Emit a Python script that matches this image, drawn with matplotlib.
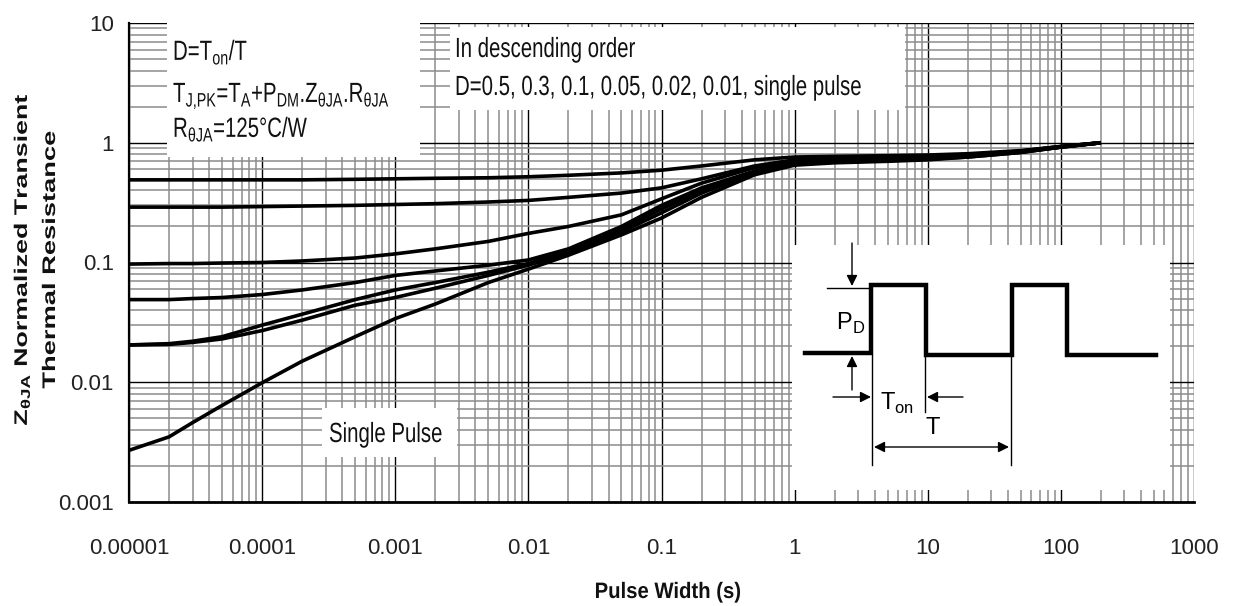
import matplotlib
matplotlib.use("Agg")
import matplotlib.pyplot as plt
from matplotlib.patches import Rectangle, PathPatch
from matplotlib.textpath import TextPath
from matplotlib.font_manager import FontProperties
from matplotlib.transforms import Affine2D
from matplotlib.ticker import FixedLocator, FixedFormatter, LogLocator, NullFormatter

# =====================
# DATA
# =====================
pulse_width = [1e-5, 2e-5, 3e-5, 5e-5, 1e-4, 2e-4, 5e-4, 1e-3, 2e-3, 5e-3, 1e-2, 2e-2,
               5e-2, 0.1, 0.2, 0.5, 1, 2, 5, 10, 20, 50, 100, 200]

z_d050 = [0.49, 0.49, 0.49, 0.49, 0.49, 0.49, 0.495, 0.50, 0.505, 0.51, 0.52, 0.535,
          0.56, 0.59, 0.64, 0.72, 0.76, 0.77, 0.78, 0.79, 0.81, 0.86, 0.93, 1.0]
z_d030 = [0.29, 0.29, 0.29, 0.29, 0.293, 0.296, 0.30, 0.305, 0.31, 0.32, 0.33, 0.35,
          0.38, 0.42, 0.50, 0.64, 0.72, 0.74, 0.76, 0.77, 0.79, 0.85, 0.93, 1.0]
z_d010 = [0.097, 0.098, 0.098, 0.099, 0.10, 0.103, 0.109, 0.118, 0.13, 0.15, 0.175, 0.20,
          0.25, 0.34, 0.46, 0.62, 0.69, 0.72, 0.74, 0.76, 0.79, 0.85, 0.93, 1.0]
z_d005 = [0.049, 0.049, 0.050, 0.051, 0.054, 0.059, 0.068, 0.078, 0.085, 0.095, 0.105, 0.13,
          0.20, 0.30, 0.42, 0.58, 0.68, 0.71, 0.73, 0.75, 0.78, 0.84, 0.92, 1.0]
z_d002 = [0.0205, 0.021, 0.022, 0.024, 0.030, 0.037, 0.049, 0.059, 0.068, 0.083, 0.098, 0.125,
          0.19, 0.28, 0.40, 0.57, 0.67, 0.70, 0.72, 0.74, 0.77, 0.84, 0.92, 1.0]
z_d001 = [0.0205, 0.0207, 0.0215, 0.023, 0.027, 0.033, 0.044, 0.051, 0.061, 0.078, 0.095, 0.12,
          0.18, 0.26, 0.38, 0.56, 0.66, 0.69, 0.71, 0.73, 0.76, 0.83, 0.92, 1.0]
z_single = [0.0027, 0.0035, 0.0046, 0.0064, 0.0099, 0.015, 0.024, 0.034, 0.045, 0.068, 0.088,
            0.115, 0.17, 0.235, 0.35, 0.54, 0.65, 0.68, 0.70, 0.72, 0.76, 0.83, 0.92, 1.0]

x_ticks = [1e-5, 1e-4, 1e-3, 1e-2, 1e-1, 1, 10, 100, 1000]
x_labels = ["0.00001", "0.0001", "0.001", "0.01", "0.1", "1", "10", "100", "1000"]
y_ticks = [1e-3, 1e-2, 1e-1, 1, 10]
y_labels = ["0.001", "0.01", "0.1", "1", "10"]

# =====================
# LAYOUT (pixel based, y from top)
# =====================
W, H = 1238, 606
FONT = "Liberation Sans"


def fx(x):
    return x / W


def fy(y):
    return 1 - y / H


fig = plt.figure(figsize=(W / 100, H / 100), dpi=100)


def stext(x, y, s, size, sx=1.0, sy=1.0, ha="left", rot=0, weight="normal", color="#111111"):
    # text drawn as a path so it can be stretched like the scanned datasheet
    tp = TextPath((0, 0), s, size=size, prop=FontProperties(family=FONT, weight=weight))
    bb = tp.get_extents()
    dx = {"left": 0, "center": -(bb.x0 + bb.x1) / 2, "right": -bb.x1}[ha]
    tr = (Affine2D().translate(dx, 0).scale(sx, sy).rotate_deg(rot)
          .translate(x, H - y).scale(1 / W, 1 / H) + fig.transFigure)
    fig.add_artist(PathPatch(tp, transform=tr, facecolor=color, edgecolor="none", zorder=4))


ax = fig.add_axes([fx(129), fy(502), fx(1194) - fx(129), fy(23) - fy(502)])

ax.set_xscale("log")
ax.set_yscale("log")
ax.set_xlim(1e-5, 1000)
ax.set_ylim(1e-3, 10)

for z in [z_d050, z_d030, z_d010, z_d005, z_d002, z_d001, z_single]:
    ax.plot(pulse_width, z, color="black", lw=2.6, solid_capstyle="butt",
            solid_joinstyle="round", zorder=3)

# grid
ax.xaxis.set_major_locator(FixedLocator(x_ticks))
ax.xaxis.set_major_formatter(FixedFormatter(x_labels))
ax.yaxis.set_major_locator(FixedLocator(y_ticks))
ax.yaxis.set_major_formatter(FixedFormatter(y_labels))
ax.xaxis.set_minor_locator(LogLocator(base=10, subs=range(2, 10), numticks=20))
ax.yaxis.set_minor_locator(LogLocator(base=10, subs=range(2, 10), numticks=20))
ax.xaxis.set_minor_formatter(NullFormatter())
ax.yaxis.set_minor_formatter(NullFormatter())
ax.grid(which="minor", color="#8c8c8c", lw=1.1)
ax.grid(which="major", color="black", lw=1.0)
ax.set_axisbelow(True)

ax.tick_params(which="both", length=0)
ax.tick_params(axis="x", pad=26, labelsize=16)
ax.tick_params(axis="y", pad=11, labelsize=16)
for lab in ax.get_xticklabels() + ax.get_yticklabels():
    lab.set_family(FONT)
    lab.set_color("#222222")

for s in ["top", "right"]:
    ax.spines[s].set_visible(False)
ax.spines["left"].set_linewidth(1.6)
ax.spines["bottom"].set_linewidth(2.0)

# white label boxes covering the grid
for (x0, y0, x1, y1) in [(167, 18, 420, 157), (450, 27, 905, 110), (322, 408, 457, 457)]:
    fig.add_artist(Rectangle((fx(x0), fy(y1)), fx(x1) - fx(x0), fy(y0) - fy(y1),
                             transform=fig.transFigure, facecolor="white",
                             edgecolor="none", zorder=1))

BOX = dict(size=20.4, sy=1.36)
stext(173, 60, r"D=T$_{\mathregular{on}}$/T", **BOX)
stext(173, 102, r"T$_{\mathregular{J{,}PK}}$=T$_{\mathregular{A}}$+P$_{\mathregular{DM}}$."
                r"Z$_{\mathregular{θJA}}$.R$_{\mathregular{θJA}}$", **BOX)
stext(173, 137, r"R$_{\mathregular{θJA}}$=125°C/W", **BOX)
stext(455, 57, "In descending order", **BOX)
stext(455, 95, "D=0.5, 0.3, 0.1, 0.05, 0.02, 0.01, single pulse", **BOX)
stext(329, 442, "Single Pulse", **BOX)

# axis titles
stext(668, 598, "Pulse Width (s)", size=20.3, sy=1.1, ha="center", weight="bold")
stext(27, 260, r"Z$_{\mathregular{θJA}}$ Normalized Transient", size=18.2, sx=1.47,
      ha="center", rot=90, weight="bold")
stext(55, 260, "Thermal Resistance", size=18.2, sx=1.5, ha="center", rot=90, weight="bold")

# =====================
# INSET: duty cycle sketch
# =====================
ins = fig.add_axes([fx(792), fy(490), fx(1170) - fx(792), fy(245) - fy(490)])
ins.set_xlim(792, 1170)
ins.set_ylim(490, 245)
ins.set_xticks([])
ins.set_yticks([])
for s in ins.spines.values():
    s.set_visible(False)
ins.set_facecolor("white")

wave_x = [805, 871, 871, 926, 926, 1012, 1012, 1067, 1067, 1156]
wave_y = [353, 353, 285, 285, 355, 355, 285, 285, 355, 355]
ins.plot(wave_x, wave_y, color="black", lw=3.2, solid_joinstyle="miter")

thin = dict(color="black", lw=1.0)
ins.plot([827, 870], [288, 288], **thin)
ins.plot([872, 872], [355, 465], **thin)
ins.plot([925, 925], [355, 412], **thin)
ins.plot([1011, 1011], [355, 465], **thin)

arr = dict(arrowstyle="-|>", color="black", lw=1.0, mutation_scale=16, shrinkA=0, shrinkB=0)
ins.annotate("", xy=(852, 286), xytext=(852, 243), arrowprops=arr)
ins.annotate("", xy=(852, 356), xytext=(852, 390), arrowprops=arr)
ins.annotate("", xy=(871, 397), xytext=(833, 397), arrowprops=arr)
ins.annotate("", xy=(927, 397), xytext=(963, 397), arrowprops=arr)
ins.annotate("", xy=(1009, 447), xytext=(874, 447),
             arrowprops=dict(arrowstyle="<|-|>", color="black", lw=1.0,
                             mutation_scale=16, shrinkA=0, shrinkB=0))

ins.text(836, 330, r"P$_{\mathregular{D}}$", family=FONT, fontsize=17, va="baseline", ha="left")
ins.text(880, 410, r"T$_{\mathregular{on}}$", family=FONT, fontsize=17, va="baseline", ha="left")
ins.text(933, 434, "T", family=FONT, fontsize=17, va="baseline", ha="center")

fig.savefig("out.png", dpi=100)
